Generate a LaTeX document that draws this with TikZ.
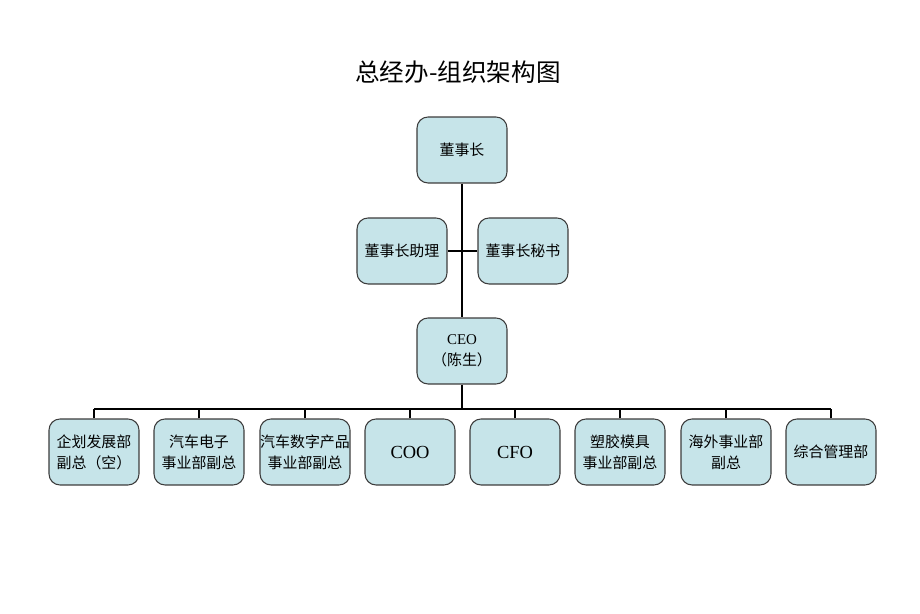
\documentclass[tikz,border=0pt]{standalone}
\usepackage{fontspec}
\setmainfont{Noto Sans CJK SC}
\newfontfamily\latin{Liberation Serif}
\definecolor{boxfill}{RGB}{198,228,233}
\definecolor{boxline}{RGB}{60,60,60}

\begin{document}
\begin{tikzpicture}[x=0.02cm,y=-0.02cm,
    post/.style={draw=boxline,line width=0.6pt,fill=boxfill,rounded corners=0.22cm,
        minimum width=1.8cm,minimum height=1.32cm,inner sep=0pt,
        align=center,font=\fontsize{8.5}{11.9}\selectfont},
    link/.style={line width=1.5pt}]
    \useasboundingbox (0,0) rectangle (920,614);
    \node (title) at (458,72) {\fontsize{14}{16}\selectfont 总经办-组织架构图};

    % top
    \node[post] (chair) at (462,150) {董事长};
    \node[post] (assist) at (402,251) {董事长助理};
    \node[post] (secr) at (523,251) {董事长秘书};
    \node[post] (ceo) at (462,351) {{\latin CEO}\\（陈生）};

    % bottom row
    \node[post] (plan) at (94,452) {企划发展部\\副总（空）};
    \node[post] (auto) at (199,452) {汽车电子\\事业部副总};
    \node[post] (digi) at (305,452) {汽车数字产品\\事业部副总};
    \node[post,font=\latin\fontsize{10.5}{12}\selectfont] (coo) at (410,452) {COO};
    \node[post,font=\latin\fontsize{10.5}{12}\selectfont] (cfo) at (515,452) {CFO};
    \node[post] (mold) at (620,452) {塑胶模具\\事业部副总};
    \node[post] (abroad) at (726,452) {海外事业部\\副总};
    \node[post] (admin) at (831,452) {综合管理部};

    \coordinate (busL) at (94,409);
    \coordinate (busR) at (831,409);

    \draw[link] (chair.south) -- (ceo.north);
    \draw[link] (assist.east) -- (secr.west);
    \draw[link] (ceo.south) -- (ceo.south |- busL);
    \draw[link] (busL) -- (busR);
    \draw[link] (plan.north) -- (busL);
    \draw[link] (auto.north) -- (auto.north |- busL);
    \draw[link] (digi.north) -- (digi.north |- busL);
    \draw[link] (coo.north) -- (coo.north |- busL);
    \draw[link] (cfo.north) -- (cfo.north |- busL);
    \draw[link] (mold.north) -- (mold.north |- busL);
    \draw[link] (abroad.north) -- (abroad.north |- busL);
    \draw[link] (admin.north) -- (busR);
\end{tikzpicture}
\end{document}
